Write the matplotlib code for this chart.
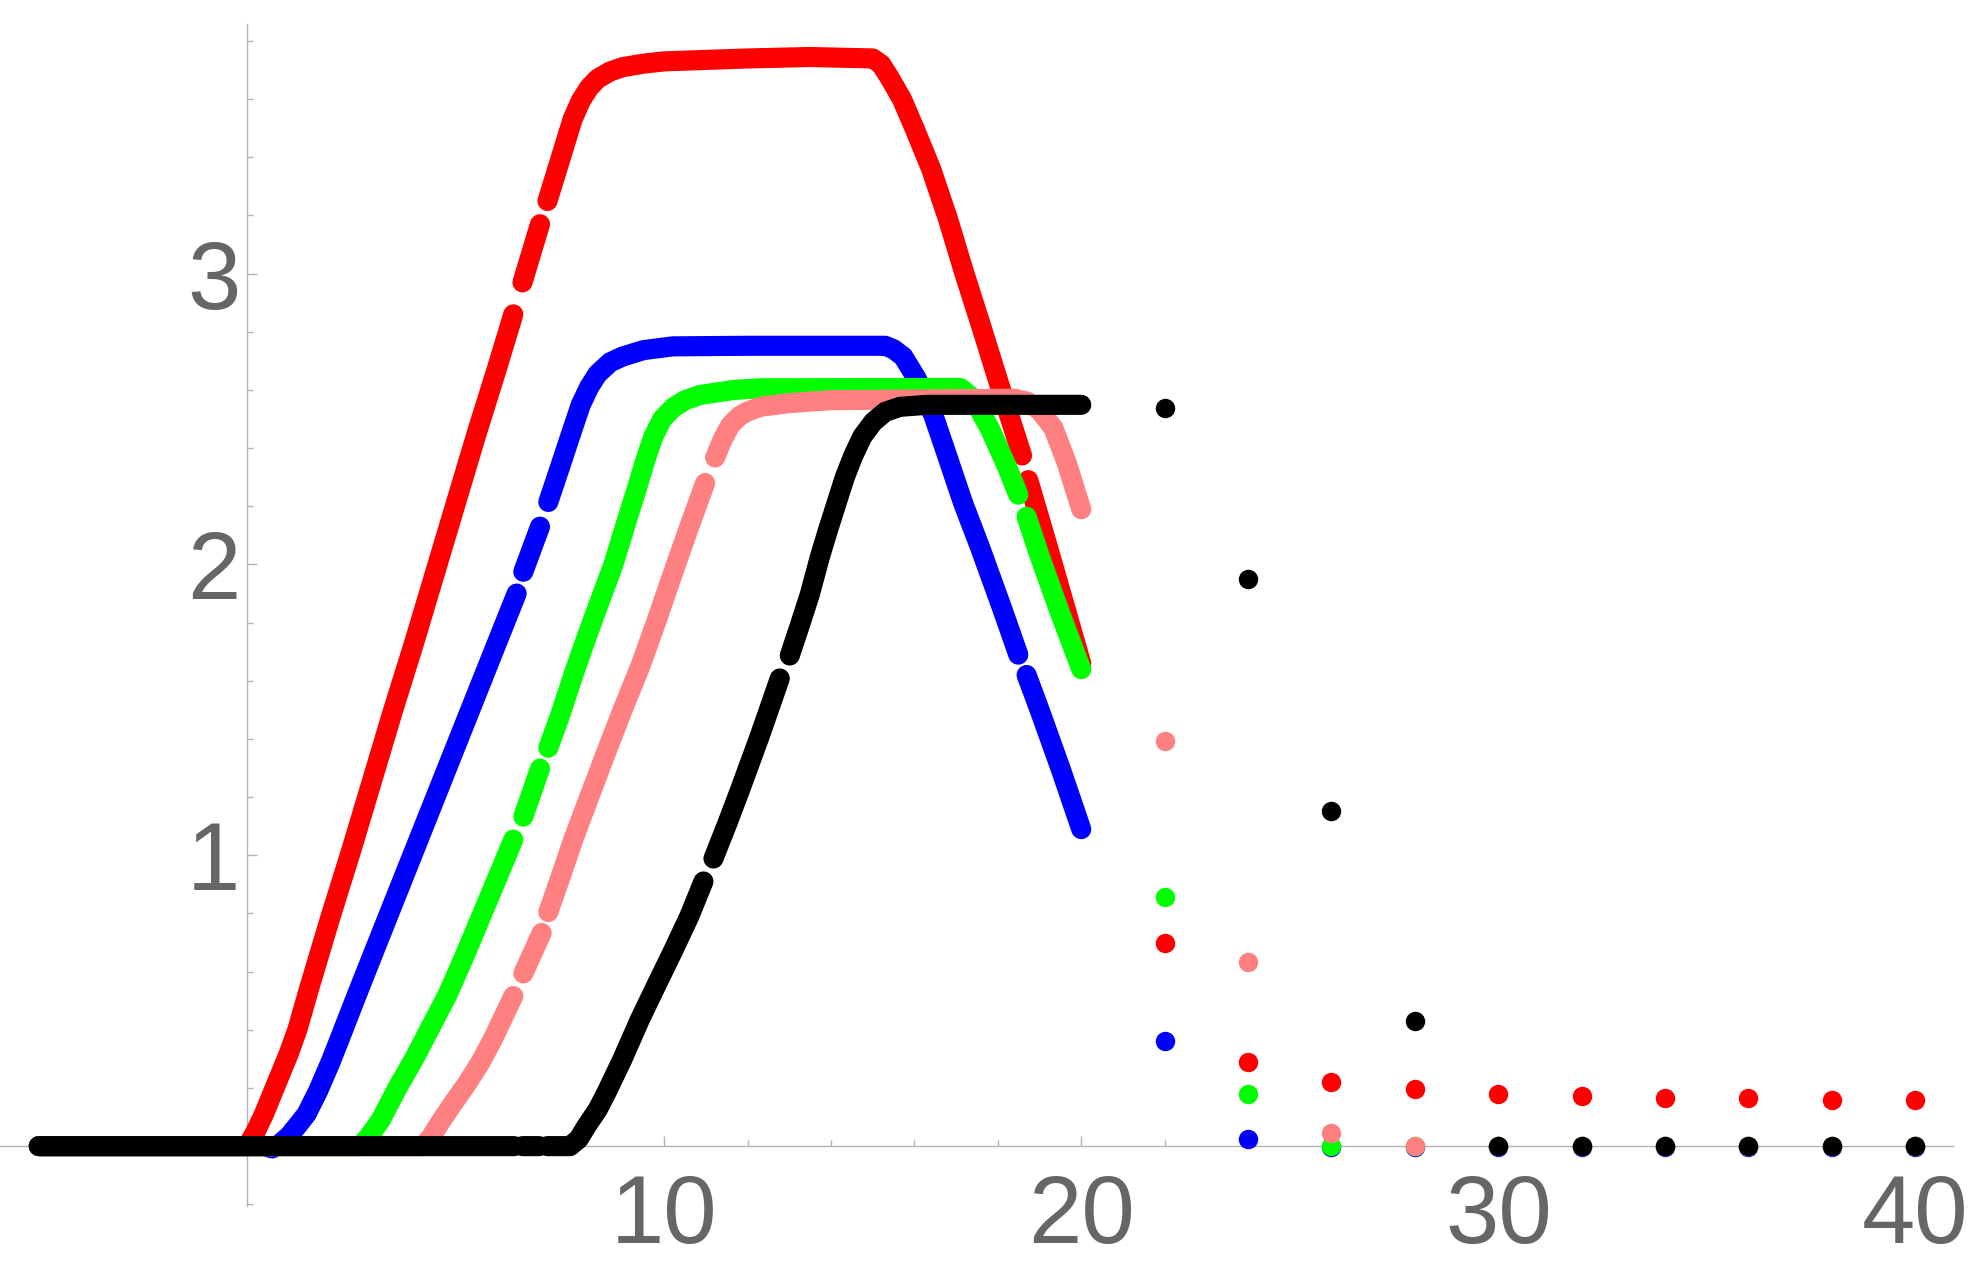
import matplotlib.pyplot as plt
from matplotlib.ticker import MultipleLocator

nan = float("nan")

# dense part of each run, t from -5 to 20 (nan = missing sample)
red_t = [-5, 0, 0.2, 0.4, 0.6, 0.8, 1.0, 1.2, 1.5, 2.0, 2.5, 3.0, 3.5, 4.0, 4.5, 5.0, 5.5, 6.0, 6.38, nan,
         6.6, 7.02, nan, 7.2, 7.5, 7.8, 8.0, 8.2, 8.4, 8.7, 9.0, 9.5, 10.0, 11.0, 12.0, 13.5, 15.0, 15.2,
         15.4, 15.7, 16.0, 16.4, 16.8, 17.2, 17.6, 18.0, 18.4, 18.58, nan, 18.73, 19.2, 19.6, 20.0]
red_y = [0, 0, 0.05, 0.11, 0.18, 0.25, 0.32, 0.40, 0.55, 0.79, 1.02, 1.26, 1.50, 1.73, 1.97, 2.21, 2.45, 2.68, 2.86, nan,
         2.97, 3.17, nan, 3.25, 3.39, 3.53, 3.595, 3.64, 3.67, 3.695, 3.71, 3.722, 3.73, 3.735, 3.74, 3.745, 3.74, 3.72,
         3.675, 3.60, 3.50, 3.36, 3.19, 3.00, 2.82, 2.635, 2.455, 2.375, nan, 2.29, 2.06, 1.86, 1.66]

blue_t = [-5, 0.4, 0.6, 0.8, 1.0, 1.2, 1.42, 1.7, 2.0, 2.22, 2.6, 3.0, 3.5, 4.0, 4.5, 5.0, 5.5, 6.0, 6.46, nan,
          6.62, 7.02, nan, 7.22, 7.5, 7.8, 8.0, 8.2, 8.4, 8.7, 9.0, 9.5, 10.2, 12.0, 15.3, 15.5, 15.73, 16.05,
          16.45, 16.77, 17.17, 17.57, 18.1, 18.49, nan, 18.69, 19.0, 19.5, 20.0]
blue_y = [0, 0, -0.008, 0.01, 0.035, 0.07, 0.11, 0.19, 0.29, 0.37, 0.51, 0.655, 0.835, 1.015, 1.195, 1.375, 1.555, 1.735, 1.90, nan,
          1.975, 2.13, nan, 2.215, 2.335, 2.465, 2.55, 2.61, 2.655, 2.695, 2.715, 2.737, 2.75, 2.752, 2.752, 2.74, 2.715, 2.64,
          2.515, 2.38, 2.21, 2.06, 1.85, 1.69, nan, 1.62, 1.50, 1.30, 1.09]

green_t = [-5, 2.7, 2.9, 3.2, 3.6, 4.0, 4.4, 4.8, 5.2, 5.8, 6.38, nan, 6.62, 7.02, nan, 7.22, 7.5, 7.82, 8.1,
           8.38, 8.78, 9.1, 9.34, 9.55, 9.74, 9.95, 10.22, 10.5, 10.86, 11.66, 12.3, 17.1, 17.41, 17.81, 18.21,
           18.49, nan, 18.69, 19.0, 19.5, 20.0]
green_y = [0, 0, 0.03, 0.09, 0.20, 0.30, 0.41, 0.52, 0.65, 0.855, 1.054, nan, 1.133, 1.298, nan, 1.37, 1.48, 1.62, 1.735,
           1.845, 2.00, 2.15, 2.26, 2.36, 2.44, 2.50, 2.54, 2.565, 2.583, 2.60, 2.606, 2.607, 2.571, 2.466, 2.339,
           2.24, nan, 2.164, 2.03, 1.83, 1.64]

pink_t = [-5, 4.22, 4.4, 4.62, 4.9, 5.26, 5.6, 5.9, 6.38, nan, 6.62, 7.06, nan, 7.22, 7.5, 7.82, 8.2, 8.62, 9.0,
          9.42, 9.8, 10.22, 10.6, 10.98, nan, 11.22, 11.4, 11.58, 11.8, 11.98, 12.3, 13.0, 14.0, 18.4, 18.7, 19.0,
          19.33, 19.65, 20.0]
pink_y = [0, 0, 0.03, 0.08, 0.14, 0.213, 0.29, 0.371, 0.516, nan, 0.594, 0.733, nan, 0.805, 0.92, 1.055, 1.20, 1.359, 1.50,
          1.648, 1.80, 1.975, 2.13, 2.28, nan, 2.368, 2.43, 2.478, 2.51, 2.525, 2.542, 2.555, 2.565, 2.57, 2.56, 2.53,
          2.47, 2.35, 2.19]

black_t = [-5, 6.4, nan, 6.6, 7.0, nan, 7.2, 7.74, 7.95, 8.14, 8.4, 8.62, 9.0, 9.42, 9.8, 10.22, 10.6, 10.94, nan,
           11.18, 11.5, 11.82, 12.29, 12.77, nan, 13.01, 13.25, 13.49, 13.73, 13.93, 14.13, 14.33, 14.53, 14.75,
           15.01, 15.3, 15.65, 16.29, 20.0]
black_y = [0, 0, nan, 0, 0, nan, 0, 0, 0.025, 0.07, 0.125, 0.186, 0.30, 0.437, 0.55, 0.674, 0.79, 0.91, nan,
           0.989, 1.105, 1.226, 1.41, 1.608, nan, 1.687, 1.79, 1.897, 2.025, 2.12, 2.21, 2.30, 2.373, 2.44,
           2.49, 2.525, 2.542, 2.549, 2.549]

# sparse samples after t = 20
tail_t = [22, 24, 26, 28, 30, 32, 34, 36, 38, 40]
red_tail = [0.70, 0.29, 0.22, 0.195, 0.179, 0.173, 0.166, 0.166, 0.158, 0.158]
blue_tail = [0.36, 0.025, -0.004, -0.004, -0.004, -0.004, -0.004, -0.004, -0.004, -0.004]
green_tail = [0.858, 0.18, 0.0, 0, 0, 0, 0, 0, 0, 0]
pink_tail = [1.393, 0.632, 0.046, 0.0, 0, 0, 0, 0, 0, 0]
black_tail = [2.538, 1.95, 1.151, 0.431, 0.0, 0, 0, 0, 0, 0]

series = [
    (red_t, red_y, red_tail, "#ff0000"),
    (blue_t, blue_y, blue_tail, "#0000ff"),
    (green_t, green_y, green_tail, "#00ff00"),
    (pink_t, pink_y, pink_tail, "#ff8080"),
    (black_t, black_y, black_tail, "#000000"),
]

LINE_W = 14.5  # width of the dense dot chains, points
DOT = 14.0     # single dot diameter, points
AXIS_GRAY = "#b3b3b3"
LABEL_GRAY = "#666666"


def plotRuns(ax):
    for t, y, tail, color in series:
        # dense samples overlap into a chain, draw them as a round-capped thick line
        ax.plot(t, y, color=color, lw=LINE_W, solid_capstyle="round",
                solid_joinstyle="round")
        ax.plot(tail_t, tail, "o", color=color, markersize=DOT, markeredgewidth=0)


def styleAxes(ax):
    ax.set_xlim(-5.93, 41.29)
    ax.set_ylim(-0.395, 3.941)
    ax.patch.set_visible(False)

    ax.spines["top"].set_visible(False)
    ax.spines["right"].set_visible(False)
    for side in ["left", "bottom"]:
        ax.spines[side].set_position(("data", 0))
        ax.spines[side].set_color(AXIS_GRAY)
        ax.spines[side].set_linewidth(1.0)
        ax.spines[side].set_zorder(0)
    ax.spines["bottom"].set_bounds(-5.93, 40.9)
    ax.spines["left"].set_bounds(-0.206, 3.858)

    ax.set_xticks([10, 20, 30, 40])
    ax.set_yticks([1, 2, 3])
    ax.xaxis.set_minor_locator(MultipleLocator(2))
    ax.yaxis.set_minor_locator(MultipleLocator(0.2))

    ax.tick_params(which="both", direction="in", color=AXIS_GRAY, width=1.0)
    ax.tick_params(which="major", length=7.5, labelsize=69, labelcolor=LABEL_GRAY)
    ax.tick_params(which="minor", length=4.3)
    ax.tick_params(axis="x", which="major", pad=19)
    ax.tick_params(axis="y", which="major", pad=5)
    for lab in ax.get_xticklabels() + ax.get_yticklabels():
        lab.set_fontfamily("Liberation Sans")


def main():
    fig = plt.figure(figsize=(19.69, 12.61), dpi=100)
    ax = fig.add_axes([0, 0, 1, 1])
    styleAxes(ax)
    plotRuns(ax)
    fig.savefig("out.png", dpi=100, facecolor="white")


if __name__ == "__main__":
    main()
